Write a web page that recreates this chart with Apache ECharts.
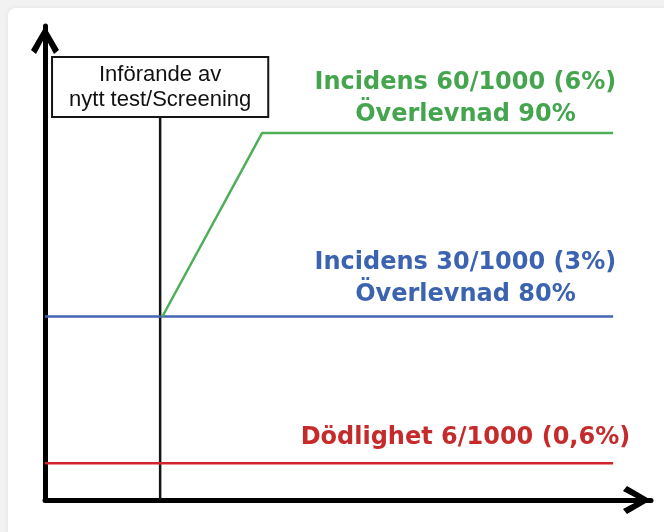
<!DOCTYPE html>
<html><head><meta charset="utf-8">
<script src="https://cdn.jsdelivr.net/npm/echarts@6/dist/echarts.min.js"></script>
<style>
html,body{margin:0;padding:0;width:664px;height:532px;background:#f2f2f2;overflow:hidden}
#card{position:absolute;left:8px;top:8px;width:720px;height:600px;background:#fff;border-radius:8px;box-shadow:0 0 5px rgba(0,0,0,0.07)}
#chart{position:absolute;left:0;top:0;width:664px;height:532px}
</style></head><body><div id="card"></div><div id="chart"></div>
<script>
// ---- data ----
const xRange = [0, 160];
const yRange = [0, 7.75];

const screeningX = 30.4;           // time of introducing new test
const screeningBoxY = 6.28;        // height where the annotation box sits
const screeningText = ['Införande av', 'nytt test/Screening'];

const dodlighetX = [0, 150];
const dodlighetY = [0.6, 0.6];
const incidens30X = [0, 150];
const incidens30Y = [3, 3];
const incidens60X = [31, 57.3, 150];
const incidens60Y = [3, 6, 6];

const labelX = 111;
const label60 = ['Incidens 60/1000 (6%)', 'Överlevnad 90%'];
const label30 = ['Incidens 30/1000 (3%)', 'Överlevnad 80%'];
const labelDod = ['Dödlighet 6/1000 (0,6%)'];

// ---- build ----
const zip = (xs, ys) => xs.map((x, i) => [x, ys[i]]);
const chevron = 'path://M14,0 L28,24 L23,28 L14,11 L5,28 L0,24 Z';

function axisLine() {
  return {
    show: true,
    lineStyle: { color: '#000', width: 5 },
    symbol: ['none', chevron],
    symbolSize: [28, 28],
    symbolOffset: [0, -14]
  };
}

function colorLabel(text, color, distance) {
  return {
    symbol: 'circle', symbolSize: 0,
    label: {
      show: true, position: 'top', distance: distance,
      formatter: text.join('\n'),
      color: color, fontFamily: 'DejaVu Sans', fontWeight: 'bold',
      fontSize: 24, lineHeight: 32, align: 'center'
    }
  };
}

const chart = echarts.init(document.getElementById('chart'), null, { renderer: 'canvas' });
chart.setOption({
  animation: false,
  backgroundColor: 'transparent',
  grid: { left: 45, right: 13, top: 26, bottom: 32 },
  xAxis: {
    type: 'value', min: xRange[0], max: xRange[1],
    axisLine: axisLine(), axisTick: { show: false }, axisLabel: { show: false }, splitLine: { show: false }
  },
  yAxis: {
    type: 'value', min: yRange[0], max: yRange[1],
    axisLine: axisLine(), axisTick: { show: false }, axisLabel: { show: false }, splitLine: { show: false }
  },
  series: [
    {
      type: 'line', name: 'screening', symbol: 'none', z: 1,
      data: [[screeningX, yRange[0]], [screeningX, screeningBoxY]],
      lineStyle: { color: '#151515', width: 2.5 },
      markPoint: {
        silent: true,
        data: [{ coord: [screeningX, screeningBoxY], symbol: 'circle', symbolSize: 0 }],
        label: {
          show: true, position: 'top', distance: 0,
          formatter: screeningText.join('\n'),
          color: '#111', fontFamily: 'Liberation Sans', fontSize: 22, lineHeight: 25,
          align: 'center',
          backgroundColor: '#fff', borderColor: '#151515', borderWidth: 2,
          padding: [5, 16, 3, 16]
        }
      }
    },
    {
      type: 'line', name: 'Dödlighet', symbol: 'none', z: 3,
      data: zip(dodlighetX, dodlighetY),
      lineStyle: { color: '#d0252b', width: 2.5 },
      markPoint: { silent: true, data: [Object.assign({ coord: [labelX, dodlighetY[0]] }, colorLabel(labelDod, '#c62b2b', 10))] }
    },
    {
      type: 'line', name: 'Incidens 30', symbol: 'none', z: 3,
      data: zip(incidens30X, incidens30Y),
      lineStyle: { color: '#4466b2', width: 2.5 },
      markPoint: { silent: true, data: [Object.assign({ coord: [labelX, incidens30Y[0]] }, colorLabel(label30, '#3c63b0', 6))] }
    },
    {
      type: 'line', name: 'Incidens 60', symbol: 'none', z: 4,
      data: zip(incidens60X, incidens60Y),
      lineStyle: { color: '#4fae58', width: 2.5 },
      markPoint: { silent: true, data: [Object.assign({ coord: [labelX, incidens60Y[2]] }, colorLabel(label60, '#45a54f', 2))] }
    }
  ]
});
</script></body></html>
